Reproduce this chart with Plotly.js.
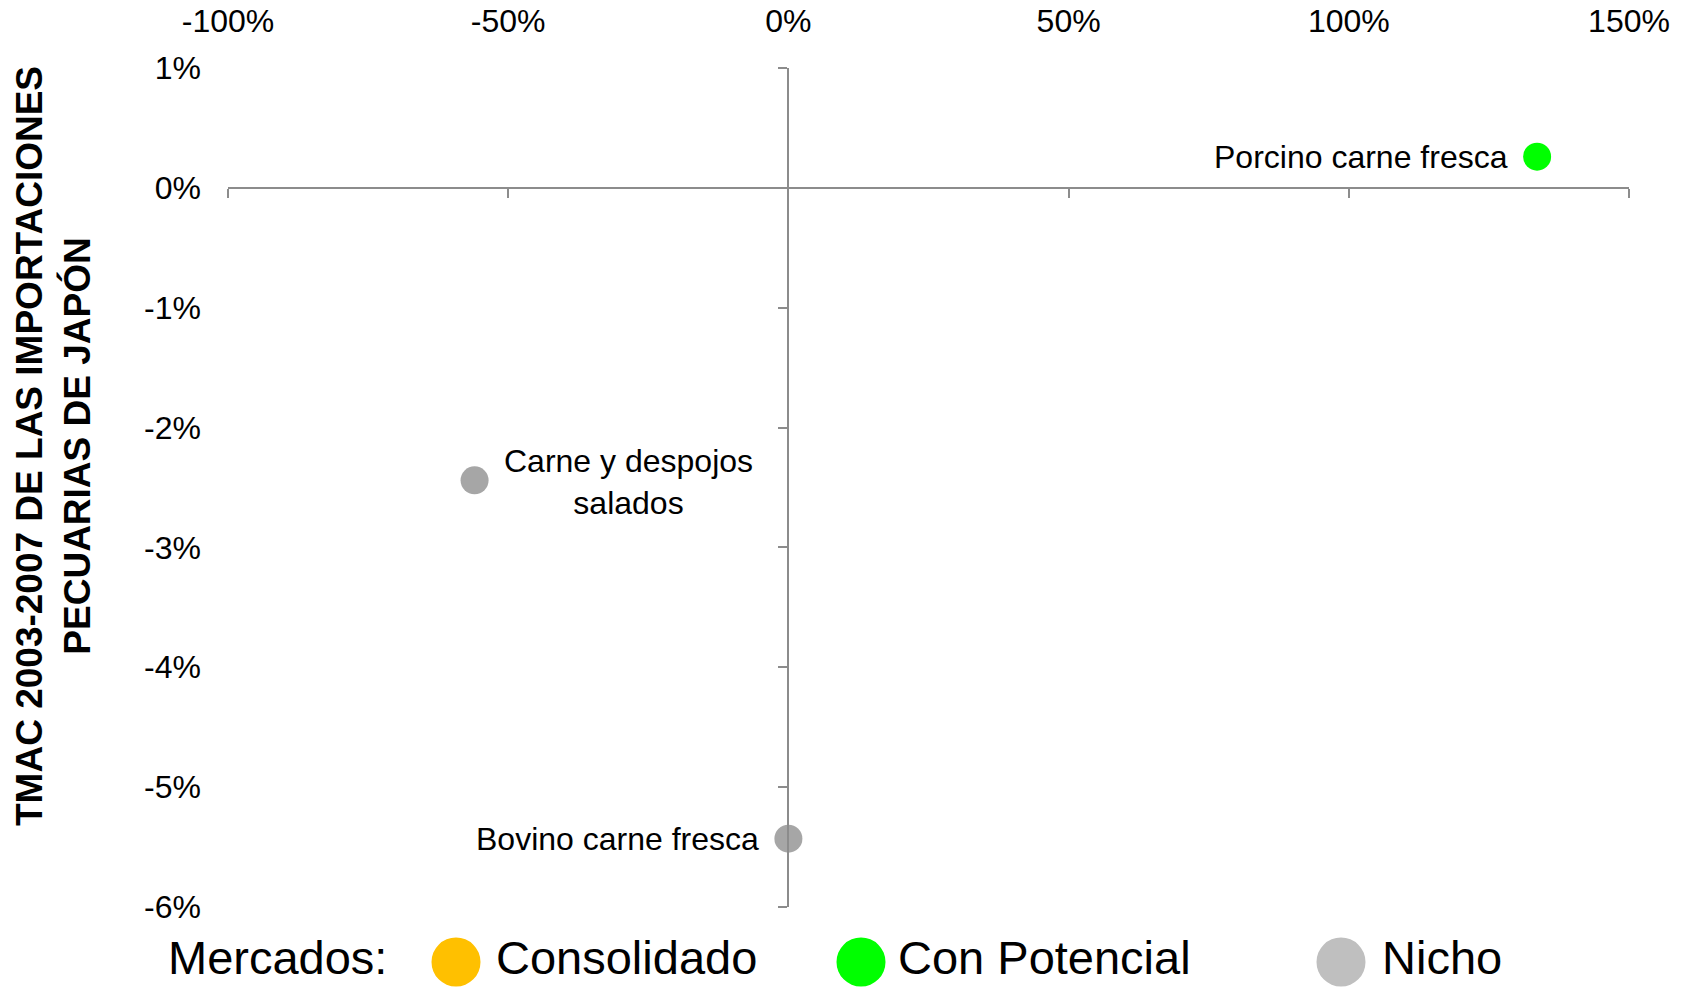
<!DOCTYPE html>
<html><head><meta charset="utf-8">
<script src="https://cdn.plot.ly/plotly-3.0.1.min.js"></script>
<style>html,body{margin:0;padding:0;background:#fff}#chart{width:1688px;height:987px}</style>
</head><body><div id="chart"></div><script>
// ---- data ----
const productNames = ['Porcino carne fresca', 'Carne y despojos salados', 'Bovino carne fresca'];
const productLabels = ['Porcino carne fresca', 'Carne y despojos<br>salados', 'Bovino carne fresca'];
const xValues = [133.6, -56.0, 0.0];      // %
const yValues = [0.26, -2.44, -5.43];     // % TMAC 2003-2007
const productMarket = ['Con Potencial', 'Nicho', 'Nicho'];
const marketNames = ['Consolidado', 'Con Potencial', 'Nicho'];
const xTickValues = [-100, -50, 0, 50, 100, 150];
const yTickValues = [1, 0, -1, -2, -3, -4, -5, -6];
const yTitle = 'TMAC 2003-2007 DE LAS IMPORTACIONES<br>PECUARIAS DE JAPÓN';

// ---- styles ----
const FONT = '"Liberation Sans", Arial, Helvetica, sans-serif';
const pointColors = {'Consolidado': '#FFC000', 'Con Potencial': '#00FF00', 'Nicho': '#A6A6A6'};
const legendColors = {'Consolidado': '#FFC000', 'Con Potencial': '#00FF00', 'Nicho': '#BFBFBF'};
const AXIS_COLOR = '#8C8C8C';
const W = 1688, H = 987;
const M = {l: 228, r: 59, t: 68, b: 80};
const plotW = W - M.l - M.r, plotH = H - M.t - M.b;
const px2x = p => (p - M.l) / plotW;
const py2y = p => (H - M.b - p) / plotH;

const traces = [];
marketNames.forEach(m => {
  const idx = productMarket.map((pm, i) => pm === m ? i : -1).filter(i => i >= 0);
  if (!idx.length) return;
  traces.push({
    type: 'scatter', mode: 'markers', name: m, showlegend: false,
    x: idx.map(i => xValues[i]), y: idx.map(i => yValues[i]),
    text: idx.map(i => productNames[i]),
    marker: {size: 28, color: pointColors[m]},
    hovertemplate: '%{text}<br>%{x}%, %{y}%<extra></extra>'
  });
});
// dummy trace to carry the crossing axes
traces.push({type: 'scatter', x: [], y: [], xaxis: 'x2', yaxis: 'y2', showlegend: false, hoverinfo: 'skip'});

const labelPlacement = {
  'Porcino carne fresca': {xanchor: 'right', xshift: -27, yshift: 0},
  'Carne y despojos salados': {xanchor: 'left', xshift: 27, yshift: -2},
  'Bovino carne fresca': {xanchor: 'right', xshift: -27, yshift: 0}
};

const annotations = productNames.map((n, i) => ({
  xref: 'x', yref: 'y', x: xValues[i], y: yValues[i], text: productLabels[i],
  showarrow: false, xanchor: labelPlacement[n].xanchor, xshift: labelPlacement[n].xshift,
  yshift: labelPlacement[n].yshift,
  yanchor: 'middle', align: 'center', font: {family: FONT, size: 32, color: '#000'}
}));

// y-axis title
annotations.push({
  xref: 'paper', yref: 'paper', x: px2x(53), y: py2y(446), text: '<b>' + yTitle.replace('<br>', '</b><br><b>') + '</b>',
  textangle: -90, showarrow: false, xanchor: 'center', yanchor: 'middle', align: 'center',
  font: {family: FONT, size: 37, color: '#000'}
});

// legend strip
const legendTextY = py2y(957);
const legendCircleY = py2y(962);
annotations.push({xref: 'paper', yref: 'paper', x: px2x(166), y: legendTextY, text: 'Mercados:', showarrow: false,
  xanchor: 'left', yanchor: 'middle', font: {family: FONT, size: 47, color: '#000'}});
const legendCircleX = [456, 861, 1341];
const legendTextX = [494, 896, 1380];
const shapes = [];
marketNames.forEach((m, i) => {
  shapes.push({type: 'circle', xref: 'paper', yref: 'paper', xsizemode: 'pixel', ysizemode: 'pixel',
    xanchor: px2x(legendCircleX[i]), yanchor: legendCircleY, x0: -24.5, x1: 24.5, y0: -24.5, y1: 24.5,
    fillcolor: legendColors[m], line: {width: 0}});
  annotations.push({xref: 'paper', yref: 'paper', x: px2x(legendTextX[i]), y: legendTextY, text: m, showarrow: false,
    xanchor: 'left', yanchor: 'middle', font: {family: FONT, size: 47, color: '#000'}});
});

const tickFont = {family: FONT, size: 32, color: '#000'};
const layout = {
  width: W, height: H, margin: M, paper_bgcolor: '#fff', plot_bgcolor: '#fff',
  showlegend: false, font: {family: FONT},
  xaxis: {range: [-100, 150], tickvals: xTickValues, ticktext: xTickValues.map(v => v + '%'),
    side: 'top', showline: false, showgrid: false, zeroline: false, ticks: '', tickfont: tickFont,
    ticklabelstandoff: 29, fixedrange: true, automargin: false},
  yaxis: {range: [-6, 1], tickvals: yTickValues, ticktext: yTickValues.map(v => v + '%'),
    showline: false, showgrid: false, zeroline: false, ticks: '', tickfont: tickFont,
    ticklabelstandoff: 26, fixedrange: true, automargin: false},
  xaxis2: {overlaying: 'x', matches: 'x', range: [-100, 150], anchor: 'free', side: 'bottom',
    tickvals: xTickValues, showticklabels: false, showline: true, linecolor: AXIS_COLOR, linewidth: 2,
    ticks: 'outside', ticklen: 9, tickwidth: 2, tickcolor: AXIS_COLOR, showgrid: false, zeroline: false, fixedrange: true},
  yaxis2: {overlaying: 'y', matches: 'y', range: [-6, 1], anchor: 'free', side: 'left',
    tickvals: yTickValues, showticklabels: false, showline: true, linecolor: AXIS_COLOR, linewidth: 2,
    ticks: 'outside', ticklen: 9, tickwidth: 2, tickcolor: AXIS_COLOR, showgrid: false, zeroline: false, fixedrange: true},
  annotations: annotations, shapes: shapes
};
// crossing axes placed exactly at data zero
layout.xaxis2.position = (0 - (-6)) / 7;
layout.yaxis2.position = (0 - (-100)) / 250;

Plotly.newPlot('chart', traces, layout, {displayModeBar: false, responsive: false});
</script></body></html>
